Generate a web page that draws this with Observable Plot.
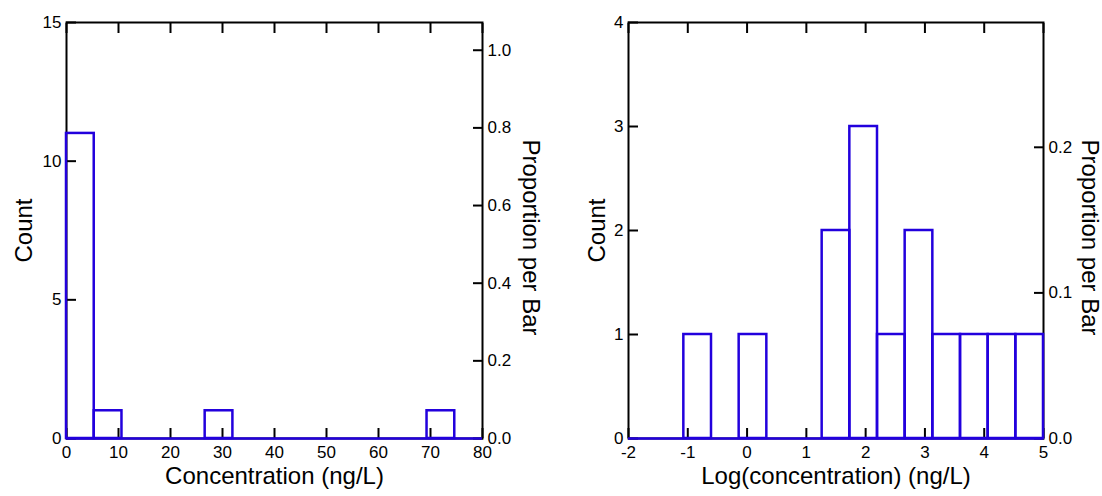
<!DOCTYPE html>
<html>
<head>
<meta charset="utf-8">
<script src="https://cdn.jsdelivr.net/npm/d3@7"></script>
<script src="https://cdn.jsdelivr.net/npm/@observablehq/plot@0.6"></script>
<style>
  html, body { margin: 0; padding: 0; background: #fff; }
  #wrap { display: flex; width: 1102px; height: 496px; }
</style>
</head>
<body>
<div id="wrap"></div>
<script>
// ---- data ----
const totalN = 14;

// Left panel: raw concentration histogram (15 bins over 0–80)
const concDomain = [0, 80];
const concCounts = [11, 1, 0, 0, 0, 1, 0, 0, 0, 0, 0, 0, 0, 1, 0];
const concXTicks = [0, 10, 20, 30, 40, 50, 60, 70, 80];
const concYTicks = [0, 5, 10, 15];
const concPropTicks = [0.0, 0.2, 0.4, 0.6, 0.8, 1.0];
const concYMax = 15;

// Right panel: log-concentration histogram (15 bins over -2–5)
const logDomain = [-2, 5];
const logCounts = [0, 0, 1, 0, 1, 0, 0, 2, 3, 1, 2, 1, 1, 1, 1];
const logXTicks = [-2, -1, 0, 1, 2, 3, 4, 5];
const logYTicks = [0, 1, 2, 3, 4];
const logPropTicks = [0.0, 0.1, 0.2];
const logYMax = 4;

const xLabels = ["Concentration (ng/L)", "Log(concentration) (ng/L)"];
const yLabel = "Count";
const y2Label = "Proportion per Bar";

const barColor = "#2200dd";
const tickFont = 17;
const titleFont = 24;

function binsFrom(domain, counts) {
  const w = (domain[1] - domain[0]) / counts.length;
  return counts.map((c, i) => ({x1: domain[0] + i * w, x2: domain[0] + (i + 1) * w, count: c}));
}

const plain = d => String(d).replace("\u2212", "-");

function panel({domain, counts, xTicks, yTicks, propTicks, yMax, xLabel, marginLeft, marginRight, countDx, propDx}) {
  const bins = binsFrom(domain, counts).filter(d => d.count > 0);
  return Plot.plot({
    width: 551,
    height: 496,
    marginLeft,
    marginRight,
    marginTop: 22,
    marginBottom: 58,
    style: {fontFamily: "'Liberation Sans', Arial, sans-serif", fontSize: tickFont + "px", background: "white", color: "black", overflow: "visible"},
    x: {domain, ticks: xTicks},
    y: {domain: [0, yMax]},
    marks: [
      Plot.frame({stroke: "black", strokeWidth: 2}),
      Plot.axisX(xTicks, {anchor: "bottom", tickSize: -10, tickPadding: 17, strokeWidth: 2, label: null, fill: "black",
        fontSize: tickFont, tickFormat: plain}),
      Plot.axisX(xTicks, {anchor: "top", tickSize: -10, tickFormat: () => "", strokeWidth: 2, label: null}),
      Plot.axisY(yTicks, {anchor: "left", tickSize: -10, tickPadding: 15, strokeWidth: 2, label: null, fill: "black",
        fontSize: tickFont, tickFormat: plain}),
      Plot.axisY(propTicks.map(p => p * totalN), {anchor: "right", tickSize: -10, tickPadding: 15, strokeWidth: 2, label: null, fill: "black",
        fontSize: tickFont, tickFormat: d => (d / totalN).toFixed(1)}),
      Plot.rectY(bins, {x1: "x1", x2: "x2", y1: 0, y2: "count", fill: "none", stroke: barColor, strokeWidth: 2.5}),
      Plot.ruleY([0], {stroke: barColor, strokeWidth: 2.5}),
      Plot.text([xLabel], {text: d => d, frameAnchor: "bottom", dy: 38, textAnchor: "middle", lineAnchor: "middle", fontSize: titleFont, fill: "black"}),
      Plot.text([yLabel], {text: d => d, frameAnchor: "left", dx: countDx, rotate: -90, textAnchor: "middle", lineAnchor: "middle", fontSize: titleFont, fill: "black"}),
      Plot.text([y2Label], {text: d => d, frameAnchor: "right", dx: propDx, dy: 7, rotate: 90, textAnchor: "middle", lineAnchor: "middle", fontSize: titleFont, fill: "black"})
    ]
  });
}

const wrap = document.getElementById("wrap");
wrap.appendChild(panel({domain: concDomain, counts: concCounts, xTicks: concXTicks, yTicks: concYTicks,
  propTicks: concPropTicks, yMax: concYMax, xLabel: xLabels[0], marginLeft: 66, marginRight: 69, countDx: -42, propDx: 48}));
wrap.appendChild(panel({domain: logDomain, counts: logCounts, xTicks: logXTicks, yTicks: logYTicks,
  propTicks: logPropTicks, yMax: logYMax, xLabel: xLabels[1], marginLeft: 77, marginRight: 59, countDx: -31, propDx: 46}));
</script>
</body>
</html>
